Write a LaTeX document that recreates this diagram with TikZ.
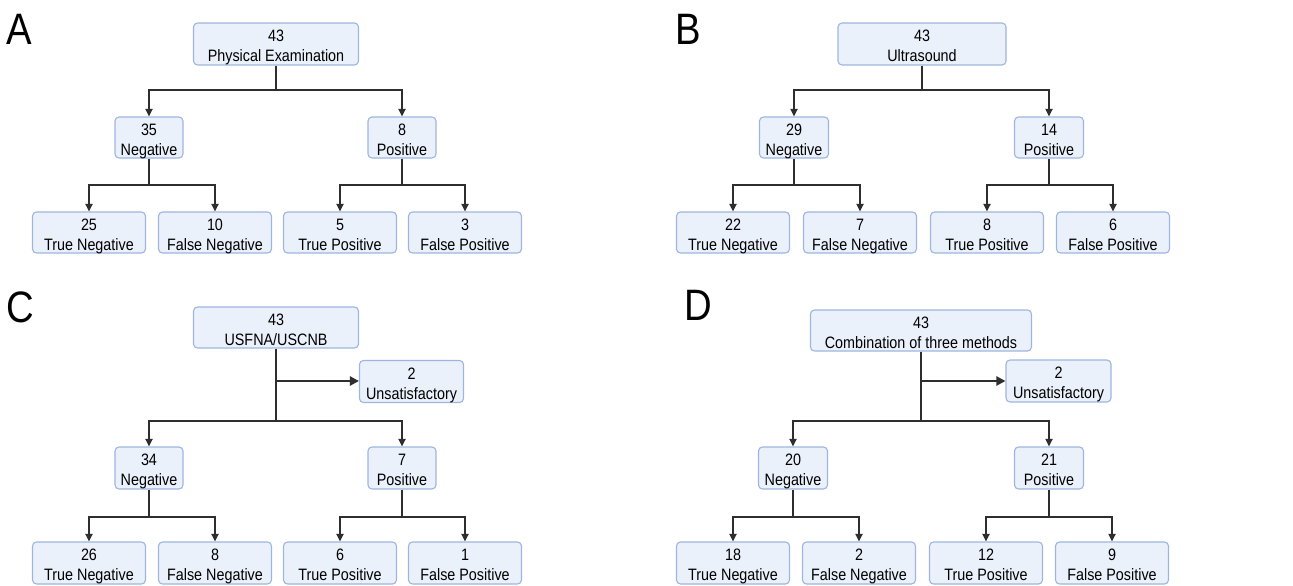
\documentclass[tikz,border=0pt]{standalone}
\usepackage{fontspec}
\setmainfont{Liberation Sans}[FakeStretch=0.87]
\usetikzlibrary{arrows.meta}
\definecolor{boxfill}{HTML}{EAF1FB}
\definecolor{boxline}{HTML}{9FB5DF}
\definecolor{arrowc}{HTML}{2E2E2E}
\begin{document}
\begin{tikzpicture}[x=1pt,y=-1pt,
  box/.style={draw=boxline, fill=boxfill, line width=1.1pt, rounded corners=4pt,
    align=center, inner sep=0pt, font=\fontsize{16.5}{20}\selectfont,
    text height=35.2pt, text depth=0pt, minimum height=41pt},
  topbox/.style={box, minimum width=165pt},
  midbox/.style={box, minimum width=68pt},
  leafbox/.style={box, minimum width=113pt},
  unsbox/.style={box, minimum width=104pt, minimum height=42pt},
  panel/.style={anchor=base west, inner sep=0pt, font=\fontsize{44}{44}\selectfont},
  stem/.style={draw=arrowc, line width=1.8pt},
  arr/.style={draw=arrowc, line width=1.8pt, -{Triangle[length=7.5pt,width=7pt]}},
  bigarr/.style={draw=arrowc, line width=2.6pt, -{Triangle[length=9pt,width=9pt]}}
]
\path[use as bounding box] (0,0) rectangle (1293,586);

% panel labels
\node[panel] (LA) at (6,45) {A};
\node[panel] (LB) at (675,45) {B};
\node[panel] (LC) at (6,322) {C};
\node[panel] (LD) at (684,320) {D};

% ---------- Panel A ----------
\node[topbox, minimum height=42pt] (tA) at (276,44) {43\\Physical Examination};
\node[midbox] (nA) at (149,137.5) {35\\Negative};
\node[midbox] (pA) at (402,137.5) {8\\Positive};
\node[leafbox] (tnA) at (89,232.5) {25\\True Negative};
\node[leafbox] (fnA) at (215,232.5) {10\\False Negative};
\node[leafbox] (tpA) at (340,232.5) {5\\True Positive};
\node[leafbox] (fpA) at (465,232.5) {3\\False Positive};
\coordinate (jA) at (276,90);
\coordinate (jnA) at (149,185);
\coordinate (jpA) at (402,185);
\draw[stem] (tA.south) -- (jA);
\draw[arr] (jA) -| (nA.north);
\draw[arr] (jA) -| (pA.north);
\draw[stem] (nA.south) -- (jnA);
\draw[arr] (jnA) -| (tnA.north);
\draw[arr] (jnA) -| (fnA.north);
\draw[stem] (pA.south) -- (jpA);
\draw[arr] (jpA) -| (tpA.north);
\draw[arr] (jpA) -| (fpA.north);

% ---------- Panel B ----------
\node[topbox, minimum width=168pt, minimum height=42pt] (tB) at (922,44) {43\\Ultrasound};
\node[midbox, minimum width=69pt] (nB) at (794,137.5) {29\\Negative};
\node[midbox, minimum width=69pt] (pB) at (1049,137.5) {14\\Positive};
\node[leafbox] (tnB) at (733,232.5) {22\\True Negative};
\node[leafbox] (fnB) at (860,232.5) {7\\False Negative};
\node[leafbox] (tpB) at (987,232.5) {8\\True Positive};
\node[leafbox] (fpB) at (1113,232.5) {6\\False Positive};
\coordinate (jB) at (922,90);
\coordinate (jnB) at (794,185);
\coordinate (jpB) at (1049,185);
\draw[stem] (tB.south) -- (jB);
\draw[arr] (jB) -| (nB.north);
\draw[arr] (jB) -| (pB.north);
\draw[stem] (nB.south) -- (jnB);
\draw[arr] (jnB) -| (tnB.north);
\draw[arr] (jnB) -| (fnB.north);
\draw[stem] (pB.south) -- (jpB);
\draw[arr] (jpB) -| (tpB.north);
\draw[arr] (jpB) -| (fpB.north);

% ---------- Panel C ----------
\node[topbox] (tC) at (276,327.5) {43\\USFNA/USCNB};
\node[unsbox] (uC) at (411.5,381.5) {2\\Unsatisfactory};
\node[midbox, minimum height=42pt] (nC) at (149,468) {34\\Negative};
\node[midbox, minimum height=42pt] (pC) at (402,468) {7\\Positive};
\node[leafbox, minimum height=42pt] (tnC) at (89,563) {26\\True Negative};
\node[leafbox, minimum height=42pt] (fnC) at (215,563) {8\\False Negative};
\node[leafbox, minimum height=42pt] (tpC) at (340,563) {6\\True Positive};
\node[leafbox, minimum height=42pt] (fpC) at (465,563) {1\\False Positive};
\coordinate (jC1) at (276,381);
\coordinate (jC) at (276,421);
\coordinate (jnC) at (149,517);
\coordinate (jpC) at (402,517);
\draw[stem] (tC.south) -- (jC);
\draw[bigarr] (jC1) -- (uC.west |- jC1);
\draw[arr] (jC) -| (nC.north);
\draw[arr] (jC) -| (pC.north);
\draw[stem] (nC.south) -- (jnC);
\draw[arr] (jnC) -| (tnC.north);
\draw[arr] (jnC) -| (fnC.north);
\draw[stem] (pC.south) -- (jpC);
\draw[arr] (jpC) -| (tpC.north);
\draw[arr] (jpC) -| (fpC.north);

% ---------- Panel D ----------
\node[topbox, minimum width=221pt] (tD) at (921,330.5) {43\\Combination of three methods};
\node[unsbox, minimum width=105pt] (uD) at (1058.5,381) {2\\Unsatisfactory};
\node[midbox, minimum width=69pt, minimum height=42pt] (nD) at (793,468) {20\\Negative};
\node[midbox, minimum width=69pt, minimum height=42pt] (pD) at (1049,468) {21\\Positive};
\node[leafbox, minimum height=42pt] (tnD) at (733,563) {18\\True Negative};
\node[leafbox, minimum height=42pt] (fnD) at (859,563) {2\\False Negative};
\node[leafbox, minimum height=42pt] (tpD) at (986,563) {12\\True Positive};
\node[leafbox, minimum height=42pt] (fpD) at (1112,563) {9\\False Positive};
\coordinate (jD1) at (921,381);
\coordinate (jD) at (921,421);
\coordinate (jnD) at (793,517);
\coordinate (jpD) at (1049,517);
\draw[stem] (tD.south) -- (jD);
\draw[bigarr] (jD1) -- (uD.west |- jD1);
\draw[arr] (jD) -| (nD.north);
\draw[arr] (jD) -| (pD.north);
\draw[stem] (nD.south) -- (jnD);
\draw[arr] (jnD) -| (tnD.north);
\draw[arr] (jnD) -| (fnD.north);
\draw[stem] (pD.south) -- (jpD);
\draw[arr] (jpD) -| (tpD.north);
\draw[arr] (jpD) -| (fpD.north);
\end{tikzpicture}
\end{document}
